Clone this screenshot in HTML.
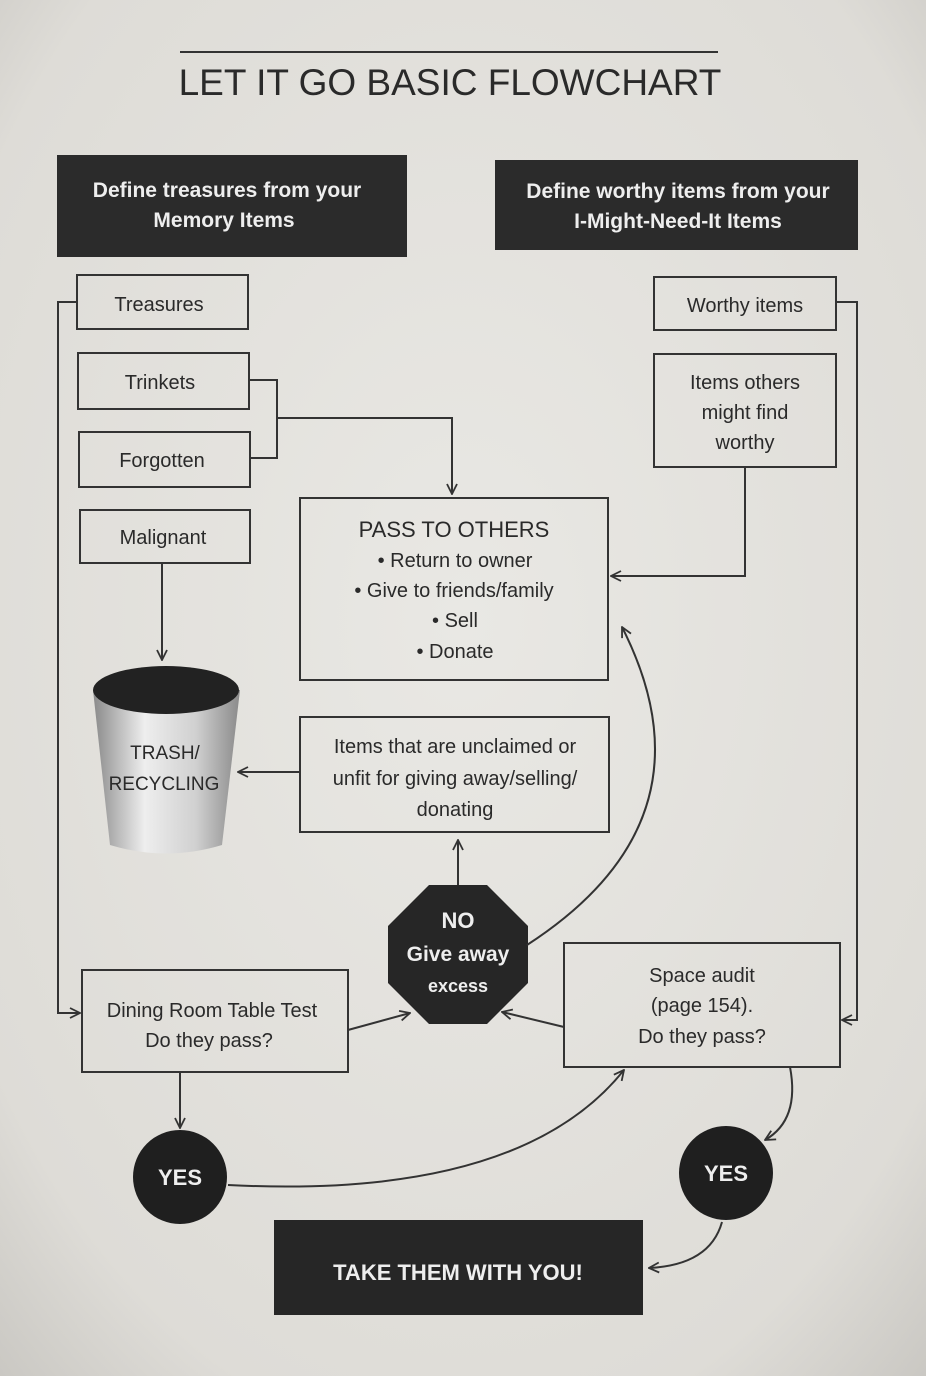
<!DOCTYPE html>
<html><head><meta charset="utf-8"><style>
html,body{margin:0;padding:0;background:#e3e2de;}
svg{display:block}
text{font-family:"Liberation Sans",sans-serif;fill:#2a2a2a}
</style></head><body>
<svg width="926" height="1376" viewBox="0 0 926 1376" xmlns="http://www.w3.org/2000/svg">
<defs>
<radialGradient id="bg" cx="50%" cy="45%" r="75%"><stop offset="0" stop-color="#e9e8e4"/><stop offset="0.8" stop-color="#dedcd7"/><stop offset="1" stop-color="#c9c7c2"/></radialGradient>
<linearGradient id="bucket" x1="0" x2="1"><stop offset="0" stop-color="#8a8a8a"/><stop offset="0.35" stop-color="#eeeeee"/><stop offset="0.7" stop-color="#d0d0d0"/><stop offset="1" stop-color="#8a8a8a"/></linearGradient>
<marker id="a" viewBox="0 0 12 12" refX="11" refY="6" markerWidth="12" markerHeight="12" markerUnits="userSpaceOnUse" orient="auto"><path d="M1,1 L11,6 L1,11" fill="none" stroke="#333" stroke-width="1.8"/></marker>
</defs>
<rect width="926" height="1376" fill="url(#bg)"/>
<line x1="180" y1="52" x2="718" y2="52" stroke="#333" stroke-width="2"/>
<text x="450" y="95" font-size="37" text-anchor="middle">LET IT GO BASIC FLOWCHART</text>

<rect x="57" y="155" width="350" height="102" fill="#2b2b2b"/>
<text x="227" y="197" font-size="21" font-weight="bold" text-anchor="middle" style="fill:#eee">Define treasures from your</text>
<text x="224" y="227" font-size="21" font-weight="bold" text-anchor="middle" style="fill:#eee">Memory Items</text>
<rect x="495" y="160" width="363" height="90" fill="#2b2b2b"/>
<text x="678" y="198" font-size="21" font-weight="bold" text-anchor="middle" style="fill:#eee">Define worthy items from your</text>
<text x="678" y="228" font-size="21" font-weight="bold" text-anchor="middle" style="fill:#eee">I-Might-Need-It Items</text>

<g fill="none" stroke="#333" stroke-width="2">
<rect x="77" y="275" width="171" height="54"/>
<rect x="78" y="353" width="171" height="56"/>
<rect x="79" y="432" width="171" height="55"/>
<rect x="80" y="510" width="170" height="53"/>
<rect x="654" y="277" width="182" height="53"/>
<rect x="654" y="354" width="182" height="113"/>
<rect x="300" y="498" width="308" height="182"/>
<rect x="300" y="717" width="309" height="115"/>
<rect x="82" y="970" width="266" height="102"/>
<rect x="564" y="943" width="276" height="124"/>
</g>
<g font-size="20" text-anchor="middle">
<text x="159" y="311">Treasures</text>
<text x="160" y="389">Trinkets</text>
<text x="162" y="467">Forgotten</text>
<text x="163" y="544">Malignant</text>
<text x="745" y="312">Worthy items</text>
<text x="745" y="389">Items others</text>
<text x="745" y="419">might find</text>
<text x="745" y="449">worthy</text>
<text x="454" y="537" font-size="22">PASS TO OTHERS</text>
<text x="455" y="567">• Return to owner</text>
<text x="454" y="597">• Give to friends/family</text>
<text x="455" y="627">• Sell</text>
<text x="455" y="658">• Donate</text>
<text x="455" y="753">Items that are unclaimed or</text>
<text x="455" y="785">unfit for giving away/selling/</text>
<text x="455" y="816">donating</text>
<text x="212" y="1017">Dining Room Table Test</text>
<text x="209" y="1047">Do they pass?</text>
<text x="702" y="982">Space audit</text>
<text x="702" y="1012">(page 154).</text>
<text x="702" y="1043">Do they pass?</text>
</g>

<!-- bucket -->
<path d="M93,690 L240,690 L222,845 Q166,862 110,845 Z" fill="url(#bucket)"/>
<ellipse cx="166" cy="690" rx="73" ry="24" fill="#222"/>
<text x="165" y="759" font-size="19" text-anchor="middle">TRASH/</text>
<text x="164" y="790" font-size="19" text-anchor="middle">RECYCLING</text>

<!-- octagon -->
<polygon points="429,885 487,885 528,926 528,983 487,1024 429,1024 388,983 388,926" fill="#262626"/>
<text x="458" y="928" font-size="22" font-weight="bold" text-anchor="middle" style="fill:#eee">NO</text>
<text x="458" y="961" font-size="21" font-weight="bold" text-anchor="middle" style="fill:#eee">Give away</text>
<text x="458" y="992" font-size="18" font-weight="bold" text-anchor="middle" style="fill:#eee">excess</text>

<circle cx="180" cy="1177" r="47" fill="#1f1f1f"/>
<text x="180" y="1185" font-size="22" font-weight="bold" text-anchor="middle" style="fill:#eee">YES</text>
<circle cx="726" cy="1173" r="47" fill="#1f1f1f"/>
<text x="726" y="1181" font-size="22" font-weight="bold" text-anchor="middle" style="fill:#eee">YES</text>

<rect x="274" y="1220" width="369" height="95" fill="#262626"/>
<text x="458" y="1280" font-size="22" font-weight="bold" text-anchor="middle" style="fill:#eee">TAKE THEM WITH YOU!</text>

<g fill="none" stroke="#333" stroke-width="2">
<polyline points="249,380 277,380 277,458 250,458"/>
<polyline points="277,418 452,418 452,494" marker-end="url(#a)"/>
<polyline points="77,302 58,302 58,1013 80,1013" marker-end="url(#a)"/>
<polyline points="836,302 857,302 857,1020 842,1020" marker-end="url(#a)"/>
<polyline points="745,467 745,576 611,576" marker-end="url(#a)"/>
<line x1="162" y1="563" x2="162" y2="660" marker-end="url(#a)"/>
<line x1="300" y1="772" x2="238" y2="772" marker-end="url(#a)"/>
<line x1="458" y1="885" x2="458" y2="840" marker-end="url(#a)"/>
<path d="M527,945 Q720,820 622,627" marker-end="url(#a)"/>
<path d="M348,1030 L410,1013" marker-end="url(#a)"/>
<path d="M564,1027 L502,1012" marker-end="url(#a)"/>
<line x1="180" y1="1072" x2="180" y2="1128" marker-end="url(#a)"/>
<path d="M228,1185 Q520,1200 624,1070" marker-end="url(#a)"/>
<path d="M790,1067 Q800,1120 765,1140" marker-end="url(#a)"/>
<path d="M722,1222 Q710,1265 649,1268" marker-end="url(#a)"/>
</g>
</svg>
</body></html>
